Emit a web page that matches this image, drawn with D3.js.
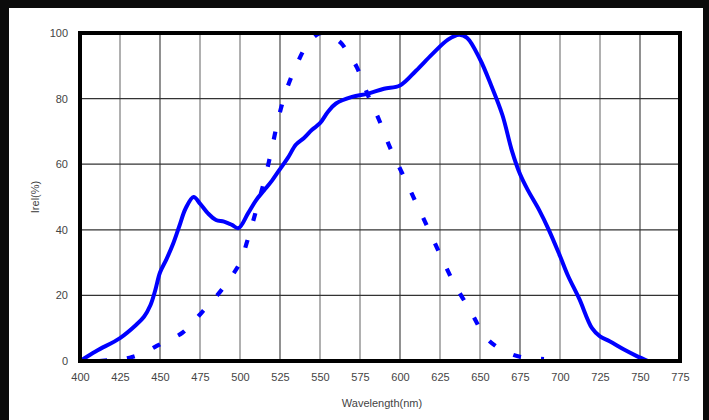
<!DOCTYPE html>
<html lang="en">

<head>
  <title></title>
  <meta charset="UTF-8">
  <style>
    body {
      margin: 0;
      background: #0b0b0b;
    }
  </style>
</head>

<body>
  <div id="container"></div>
  <script src="https://cdn.jsdelivr.net/npm/d3@7"></script>
  <script>
    // sensor response (solid) - wavelength / value
    const sensorNm = [400, 410, 425, 435, 440, 444, 447, 450, 454, 458, 462, 466, 471, 475, 480, 485, 490, 495, 499,
      505, 510, 515, 520, 525, 530, 535, 540, 545, 550, 555, 560, 570, 580, 590, 600, 610, 620, 630, 637, 642,
      650, 657, 664, 670, 675, 680, 687, 693, 700, 705, 712, 720, 725, 731, 740, 748, 755];
    const sensorVal = [0, 3, 7, 11, 13.5, 17, 21.5, 27, 31, 35.5, 41, 46.5, 50, 48, 45, 43, 42.5, 41.5, 40.5,
      45, 49, 52, 55, 58.5, 62, 66, 68, 70.5, 72.5, 76, 78.5, 80.5, 81.5, 83, 84, 88.5, 93.5, 98, 99.5, 98.5,
      92, 84, 75, 64, 57, 52, 46, 40, 32, 26, 19, 10, 7.5, 6, 3.5, 1.5, 0];
    // eye response (dashed)
    const eyeNm = [412, 425, 431, 440, 448, 456, 464, 470, 477, 483, 489, 495, 500, 506, 511, 516, 520, 524, 529,
      536, 542, 548, 552, 557, 563, 568, 573, 580, 587, 594, 602, 610, 618, 626, 634, 644, 653, 660, 668, 676, 690];
    const eyeVal = [0, 0.5, 1, 2.5, 4.6, 6.5, 8.6, 11.5, 15.3, 18.5, 22, 26, 30, 39, 47.5, 56.5, 65, 74, 82.6,
      91, 96.5, 99.5, 100, 99, 97, 93.5, 89.6, 81, 73.4, 64.8, 56.6, 48.3, 40, 31.5, 23.5, 15.3, 7.6, 4.5, 2.4, 1.2, 0.6];
    const xTicks = [400, 425, 450, 475, 500, 525, 550, 575, 600, 625, 650, 675, 700, 725, 750, 775];
    const yTicks = [0, 20, 40, 60, 80, 100];

    const width = 709, height = 420;
    const plot = { left: 80, right: 680, top: 33, bottom: 361 };

    const x = d3.scaleLinear().domain([400, 775]).range([plot.left, plot.right]);
    const y = d3.scaleLinear().domain([0, 100]).range([plot.bottom, plot.top]);

    const svg = d3.select('#container')
      .append('svg')
      .attr('width', width)
      .attr('height', height)
      .style('display', 'block');

    // white panel
    svg.append('rect')
      .attr('x', 9).attr('y', 8)
      .attr('width', 694).attr('height', 412)
      .attr('fill', '#fff');

    // vertical grid
    svg.append('g')
      .selectAll('line')
      .data(xTicks.slice(1, -1))
      .join('line')
      .attr('x1', d => x(d)).attr('x2', d => x(d))
      .attr('y1', plot.top).attr('y2', plot.bottom)
      .attr('stroke', d => (d - 450) % 75 === 0 ? '#555' : '#a8a8a8')
      .attr('stroke-width', d => (d - 450) % 75 === 0 ? 1.3 : 1.8);

    // horizontal grid
    svg.append('g')
      .selectAll('line')
      .data(yTicks.slice(1, -1))
      .join('line')
      .attr('x1', plot.left).attr('x2', plot.right)
      .attr('y1', d => y(d)).attr('y2', d => y(d))
      .attr('stroke', '#333')
      .attr('stroke-width', 1.2);

    const line = d3.line()
      .x(d => x(d[0]))
      .y(d => y(d[1]))
      .curve(d3.curveCatmullRom.alpha(0.5));

    svg.append('clipPath').attr('id', 'clip')
      .append('rect')
      .attr('x', plot.left).attr('y', plot.top - 3)
      .attr('width', plot.right - plot.left).attr('height', plot.bottom - plot.top + 3);

    svg.append('path')
      .datum(d3.zip(eyeNm, eyeVal))
      .attr('d', line)
      .attr('fill', 'none')
      .attr('stroke', '#0000ff')
      .attr('stroke-width', 4.2)
      .attr('stroke-dasharray', '8 20')
      .attr('clip-path', 'url(#clip)');

    svg.append('path')
      .datum(d3.zip(sensorNm, sensorVal))
      .attr('d', line)
      .attr('fill', 'none')
      .attr('stroke', '#0000ff')
      .attr('stroke-width', 4)
      .attr('stroke-linejoin', 'round')
      .attr('clip-path', 'url(#clip)');

    // frame
    svg.append('rect')
      .attr('x', plot.left).attr('y', plot.top)
      .attr('width', plot.right - plot.left).attr('height', plot.bottom - plot.top)
      .attr('fill', 'none')
      .attr('stroke', '#000')
      .attr('stroke-width', 4);

    // axes (labels only)
    const xAxis = svg.append('g')
      .attr('transform', `translate(0,${plot.bottom + 6})`)
      .call(d3.axisBottom(x).tickValues(xTicks).tickSize(0).tickPadding(6));
    const yAxis = svg.append('g')
      .attr('transform', `translate(${plot.left - 8},0)`)
      .call(d3.axisLeft(y).tickValues(yTicks).tickSize(0).tickPadding(4));
    [xAxis, yAxis].forEach(g => {
      g.select('.domain').remove();
      g.selectAll('text')
        .attr('fill', '#444')
        .style('font-family', '"Liberation Sans", Arial, sans-serif')
        .style('font-size', '11px');
    });

    svg.append('text')
      .attr('x', 382).attr('y', 407)
      .attr('text-anchor', 'middle')
      .attr('fill', '#444')
      .style('font-family', '"Liberation Sans", Arial, sans-serif')
      .style('font-size', '11px')
      .text('Wavelength(nm)');

    svg.append('text')
      .attr('transform', 'translate(39,197) rotate(-90)')
      .attr('text-anchor', 'middle')
      .attr('fill', '#444')
      .style('font-family', '"Liberation Sans", Arial, sans-serif')
      .style('font-size', '11px')
      .text('Irel(%)');
  </script>
</body>

</html>
